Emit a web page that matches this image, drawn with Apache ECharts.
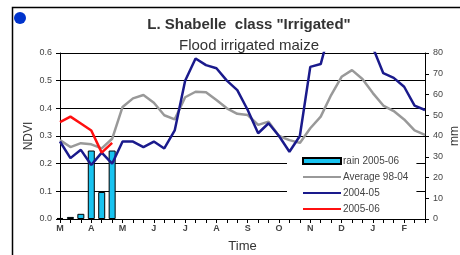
<!DOCTYPE html>
<html>
<head>
<meta charset="utf-8">
<script src="https://cdn.jsdelivr.net/npm/echarts@6/dist/echarts.min.js"></script>
<style>
  html, body { margin: 0; padding: 0; background: #fff; }
  #chart { width: 460px; height: 255px; }
</style>
</head>
<body>
<div id="chart"></div>
<script>
// dekads, March to February (3 per month)
var months = ["Mar", "Apr", "May", "Jun", "Jul", "Aug", "Sep", "Oct", "Nov", "Dec", "Jan", "Feb"];
var dekads = [];
months.forEach(function (m) {
  dekads.push(m + "-1", m + "-2", m + "-3");
});

// rain 2005-06 (mm, right axis)
var rain0506 = [0.5, 1, 2.5, 33, 13, 33];
// NDVI average 98-04
var avg9804 = [0.285, 0.26, 0.274, 0.27, 0.255, 0.29, 0.405, 0.436, 0.448, 0.42, 0.375, 0.36,
  0.44, 0.46, 0.458, 0.43, 0.40, 0.38, 0.376, 0.34, 0.352, 0.30, 0.285, 0.275,
  0.328, 0.37, 0.448, 0.514, 0.538, 0.506, 0.455, 0.41, 0.39, 0.36, 0.32, 0.304];
// NDVI 2004-05
var ndvi0405 = [0.28, 0.22, 0.25, 0.195, 0.24, 0.20, 0.28, 0.28, 0.26, 0.28, 0.255, 0.32,
  0.50, 0.58, 0.556, 0.545, 0.50, 0.466, 0.394, 0.31, 0.346, 0.30, 0.243, 0.30,
  0.55, 0.56, 0.70, 0.78, 0.80, 0.75, 0.62, 0.527, 0.51, 0.478, 0.41, 0.394];
// NDVI 2005-06
var ndvi0506 = [0.35, 0.37, 0.345, 0.32, 0.24, 0.275];

var chart = echarts.init(document.getElementById("chart"));

var noDot = { opacity: 0 };

var option = {
  animation: false,
  backgroundColor: "#fff",
  textStyle: { fontFamily: "Liberation Sans, Arial, sans-serif" },
  title: [
    {
      text: 'L. Shabelle  class "Irrigated"',
      left: 244, top: 12, textAlign: "center",
      textStyle: { fontSize: 15, fontWeight: "bold", color: "#333" }
    },
    {
      text: "Flood irrigated maize",
      left: 244, top: 33, textAlign: "center",
      textStyle: { fontSize: 15, fontWeight: "normal", color: "#333" }
    }
  ],
  graphic: [
    {
      type: "polyline",
      shape: { points: [[12.5, 260], [12.5, 7.5], [465, 7.5]] },
      style: { stroke: "#000", lineWidth: 1.5, fill: null }
    },
    {
      type: "circle",
      shape: { cx: 20, cy: 18, r: 6 },
      style: { fill: "#0033cc" }
    }
  ],
  legend: {
    orient: "vertical",
    left: 287, top: 154,
    padding: [2, 8, 2, 15],
    backgroundColor: "#fff",
    itemWidth: 38, itemHeight: 6, itemGap: 6,
    textStyle: { fontSize: 10, color: "#444", padding: [0, 0, 0, -3] },
    data: [
      { name: "rain 2005-06", icon: "rect" },
      { name: "Average 98-04", itemStyle: noDot },
      { name: "2004-05", itemStyle: noDot },
      { name: "2005-06", itemStyle: noDot }
    ]
  },
  grid: { left: 60, right: 35, top: 53, bottom: 36, outerBoundsMode: "none" },
  xAxis: {
    type: "category",
    data: dekads,
    boundaryGap: false,
    name: "Time",
    nameLocation: "middle",
    nameGap: 21,
    nameTextStyle: { fontSize: 13, color: "#333" },
    axisLine: { lineStyle: { color: "#000", width: 1 } },
    axisTick: { interval: 0, length: 4, lineStyle: { color: "#000" } },
    axisLabel: {
      interval: 2, fontSize: 9, fontWeight: "bold", color: "#444", margin: 5,
      formatter: function (v) { return v.charAt(0); }
    }
  },
  yAxis: [
    {
      type: "value",
      min: 0, max: 0.6, interval: 0.1,
      name: "NDVI",
      nameLocation: "middle",
      nameGap: 25,
      nameMoveOverlap: false,
      nameRotate: 90,
      nameTextStyle: { fontSize: 12, color: "#333" },
      axisLine: { show: true, lineStyle: { color: "#000" } },
      axisTick: { show: true, length: 4, lineStyle: { color: "#000" } },
      axisLabel: {
        fontSize: 9, color: "#444", margin: 8,
        formatter: function (v) { return v.toFixed(1); }
      },
      splitLine: { show: true, lineStyle: { color: "#000", width: 1 } }
    },
    {
      type: "value",
      min: 0, max: 80, interval: 10,
      name: "mm",
      nameLocation: "middle",
      nameGap: 24,
      nameMoveOverlap: false,
      nameRotate: 90,
      nameTextStyle: { fontSize: 12, color: "#333" },
      axisLine: { show: true, lineStyle: { color: "#000" } },
      axisTick: { show: true, length: 4, lineStyle: { color: "#000" } },
      axisLabel: { fontSize: 9, color: "#444", margin: 8 },
      splitLine: { show: false }
    }
  ],
  series: [
    {
      name: "rain 2005-06",
      type: "bar",
      yAxisIndex: 1,
      barWidth: 7,
      data: rain0506,
      itemStyle: { color: "#19c3f0", borderColor: "#000", borderWidth: 1 }
    },
    {
      name: "Average 98-04",
      type: "line",
      data: avg9804,
      symbol: "none",
      lineStyle: { color: "#999", width: 2.5 },
      itemStyle: { color: "#999" }
    },
    {
      name: "2004-05",
      type: "line",
      data: ndvi0405,
      symbol: "none",
      lineStyle: { color: "#1a1a8c", width: 2.5 },
      itemStyle: { color: "#1a1a8c" }
    },
    {
      name: "2005-06",
      type: "line",
      data: ndvi0506,
      symbol: "none",
      lineStyle: { color: "#ff1010", width: 2.5 },
      itemStyle: { color: "#ff1010" }
    }
  ]
};

chart.setOption(option);
</script>
</body>
</html>
